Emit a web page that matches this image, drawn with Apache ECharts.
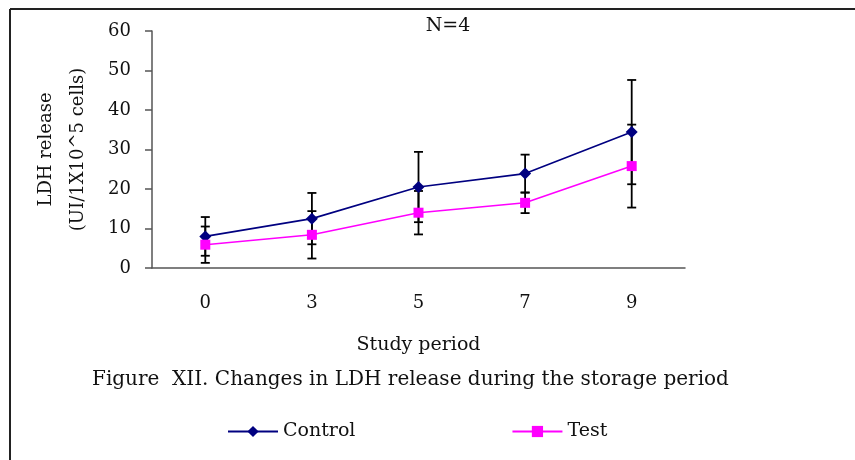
<!DOCTYPE html>
<html>
<head>
<meta charset="utf-8">
<title>LDH release</title>
<script src="https://cdn.jsdelivr.net/npm/echarts@6/dist/echarts.min.js"></script>
<style>
    html, body { margin: 0; padding: 0; background: #fff; }
    #chart { width: 855px; height: 460px; }
</style>
</head>
<body>
<div id="chart"></div>
<script>
// 数据
let periods = ['0', '3', '5', '7', '9'];
let controlMean = [8.0, 12.5, 20.5, 23.9, 34.4];
let controlErr = [4.9, 6.5, 8.9, 4.8, 13.2];
let testMean = [5.9, 8.4, 14.0, 16.5, 25.8];
let testErr = [4.6, 6.0, 5.5, 2.6, 10.5];

let fontName = 'DejaVu Serif';

// 误差线数据 [类目下标, 下限, 上限]
function errData(mean, err) {
    return mean.map(function (m, i) {
        return [i, m - err[i], m + err[i]];
    });
}

function renderErr(params, api) {
    let x = api.value(0);
    let low = api.coord([x, api.value(1)]);
    let high = api.coord([x, api.value(2)]);
    let w = 4.5;
    let style = { stroke: '#000', lineWidth: 1.8 };
    return {
        type: 'group',
        children: [
            { type: 'line', shape: { x1: high[0], y1: high[1], x2: low[0], y2: low[1] }, style: style },
            { type: 'line', shape: { x1: high[0] - w, y1: high[1], x2: high[0] + w, y2: high[1] }, style: style },
            { type: 'line', shape: { x1: low[0] - w, y1: low[1], x2: low[0] + w, y2: low[1] }, style: style }
        ]
    };
}

let myChart = echarts.init(document.getElementById('chart'));

let option = {
    animation: false,
    textStyle: { fontFamily: fontName, color: '#111' },
    title: {
        text: 'N=4',
        left: 443,
        top: 12,
        textAlign: 'center',
        textStyle: { fontFamily: fontName, fontSize: 19, fontWeight: 'normal', color: '#111' }
    },
    legend: {
        left: 222,
        top: 417,
        itemWidth: 50,
        itemHeight: 14,
        itemGap: 156,
        textStyle: { fontFamily: fontName, fontSize: 19, color: '#111' },
        data: ['Control', 'Test']
    },
    graphic: [
        { type: 'line', shape: { x1: 10, y1: 9, x2: 855, y2: 9 }, style: { stroke: '#222', lineWidth: 2 } },
        { type: 'line', shape: { x1: 10, y1: 9, x2: 10, y2: 460 }, style: { stroke: '#222', lineWidth: 2 } },
        {
            type: 'text',
            left: 92,
            top: 370,
            style: {
                text: 'Figure  XII. Changes in LDH release during the storage period',
                font: '20px "DejaVu Serif"',
                fill: '#111'
            }
        }
    ],
    grid: {
        left: 152,
        right: 170,
        top: 31,
        bottom: 192
    },
    xAxis: {
        type: 'category',
        data: periods,
        boundaryGap: true,
        name: 'Study period',
        nameLocation: 'middle',
        nameGap: 68,
        nameTextStyle: { fontFamily: fontName, fontSize: 19, color: '#111' },
        axisLine: { lineStyle: { color: '#555', width: 1.5 } },
        axisTick: { length: 7, lineStyle: { color: '#555', width: 1.5 } },
        axisLabel: { margin: 26, fontFamily: fontName, fontSize: 18, color: '#111' }
    },
    yAxis: {
        type: 'value',
        min: 0,
        max: 60,
        interval: 10,
        name: 'LDH release\n(UI/1X10^5 cells)',
        nameLocation: 'middle',
        nameRotate: 90,
        nameGap: 58,
        nameTextStyle: { fontFamily: fontName, fontSize: 18, color: '#111', lineHeight: 32 },
        splitLine: { show: false },
        axisLine: { show: true, lineStyle: { color: '#555', width: 1.5 } },
        axisTick: { show: true, length: 7, lineStyle: { color: '#555', width: 1.5 } },
        axisLabel: { margin: 21, fontFamily: fontName, fontSize: 18, color: '#111' }
    },
    series: [
        {
            name: 'Control',
            type: 'line',
            data: controlMean,
            symbol: 'diamond',
            symbolSize: 12,
            z: 5,
            itemStyle: { color: '#000080' },
            lineStyle: { color: '#000080', width: 1.6 }
        },
        {
            name: 'Test',
            type: 'line',
            data: testMean,
            symbol: 'rect',
            symbolSize: 10,
            z: 5,
            itemStyle: { color: '#ff00ff' },
            lineStyle: { color: '#ff00ff', width: 1.6 }
        },
        {
            name: 'ControlErr',
            type: 'custom',
            renderItem: renderErr,
            data: errData(controlMean, controlErr),
            z: 3
        },
        {
            name: 'TestErr',
            type: 'custom',
            renderItem: renderErr,
            data: errData(testMean, testErr),
            z: 3
        }
    ]
};

myChart.setOption(option);
</script>
</body>
</html>
